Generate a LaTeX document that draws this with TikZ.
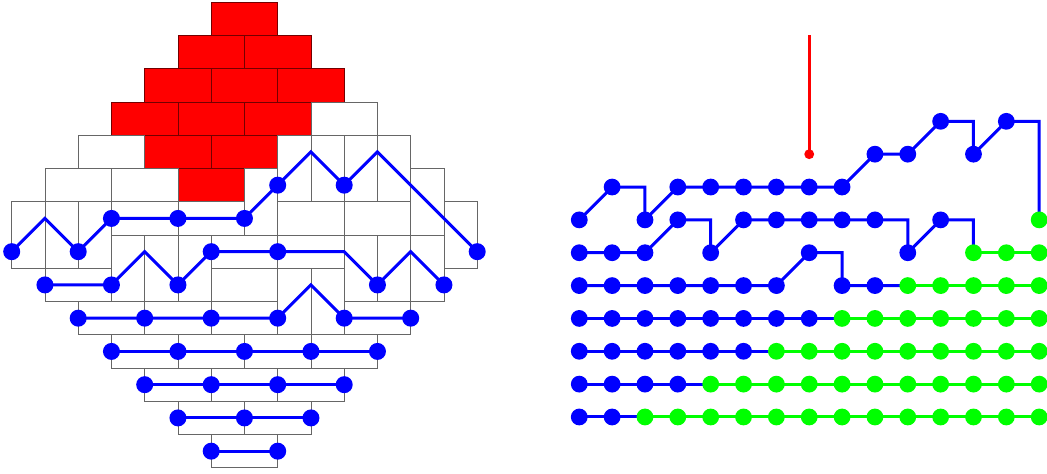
\documentclass[tikz,border=0pt]{standalone}
\usepackage{tikz}
\definecolor{pathblue}{RGB}{0,0,255}
\definecolor{pathgreen}{RGB}{0,255,0}
\definecolor{brickred}{RGB}{255,0,0}
\newcommand\HDomino[3][]{%
    \draw[#1] (#2,#3) rectangle ++(2,1);
}
\newcommand\VDomino[3][]{%
    \draw[#1] (#2,#3) rectangle ++(1,2);
}
\newcommand\Particle[2]{%
    \fill (#1,#2) circle (8.5pt);
}

\begin{document}
\begin{tikzpicture}[x=33.25pt,y=33.25pt]
    \useasboundingbox (-0.352,-0.186) rectangle (31.137,14.069);
    \begin{scope}[line width=0.8pt, draw=black!60] % tiling
        \foreach \x/\y in {6/13, 5/12, 7/12, 4/11, 6/11, 8/11, 3/10, 5/10, 7/10, 4/9, 6/9, 5/8}
            {\HDomino[fill=brickred, draw=red!45!black]{\x}{\y}}
        \foreach \x/\y in {9/10, 2/9, 1/8, 3/8, 8/7, 10/7, 6/5,
                           3/7, 5/7, 6/6, 8/6, 1/5, 2/4, 4/4, 6/4, 10/4,
                           3/3, 5/3, 7/3, 9/3, 4/2, 6/2, 8/2, 5/1, 7/1, 6/0}
            {\HDomino{\x}{\y}}
        \foreach \x/\y in {0/6, 1/6, 2/6, 13/6, 7/7, 12/7, 8/8, 9/8, 10/8, 11/8,
                           3/5, 4/5, 5/5, 10/5, 11/5, 12/5, 8/4, 9/4}
            {\VDomino{\x}{\y}}
    \end{scope}
    \begin{scope}[color=pathblue, line width=3pt] % paths
        \draw (0,6.5) -- (1,7.5) -- (2,6.5) -- (3,7.5) -- (7,7.5) -- (9,9.5) -- (10,8.5) -- (11,9.5) -- (14,6.5);
        \draw (1,5.5) -- (3,5.5) -- (4,6.5) -- (5,5.5) -- (6,6.5) -- (10,6.5) -- (11,5.5) -- (12,6.5) -- (13,5.5);
        \draw (2,4.5) -- (8,4.5) -- (9,5.5) -- (10,4.5) -- (12,4.5);
        \draw (3,3.5) -- (11,3.5);
        \draw (4,2.5) -- (10,2.5);
        \draw (5,1.5) -- (9,1.5);
        \draw (6,0.5) -- (8,0.5);
        \foreach \x/\y in {0/6.5, 2/6.5, 3/7.5, 5/7.5, 7/7.5, 8/8.5, 10/8.5, 14/6.5,
                           1/5.5, 3/5.5, 5/5.5, 6/6.5, 8/6.5, 11/5.5, 13/5.5,
                           2/4.5, 4/4.5, 6/4.5, 8/4.5, 10/4.5, 12/4.5,
                           3/3.5, 5/3.5, 7/3.5, 9/3.5, 11/3.5,
                           4/2.5, 6/2.5, 8/2.5, 10/2.5,
                           5/1.5, 7/1.5, 9/1.5, 6/0.5, 8/0.5}
            {\Particle{\x}{\y}}
    \end{scope}

    \begin{scope}[shift={(17.07,1.528)}, scale=0.988, line width=3pt]
        \draw[brickred] (7,11.62) -- (7,8) coordinate (Tip);
        \fill[brickred] (Tip) circle (5pt);
        % green tails
        \foreach \j in {0,...,6}
            {\draw[pathgreen] ({2*\j+2},\j) -- (14,\j);}
        \begin{scope}[color=pathblue]
            \draw (0,6) -- (1,7) -- (2,7) -- (2,6) -- (3,7) -- (8,7) -- (9,8) -- (10,8) -- (11,9) -- (12,9) -- (12,8) -- (13,9) -- (14,9) -- (14,6);
            \draw (0,5) -- (2,5) -- (3,6) -- (4,6) -- (4,5) -- (5,6) -- (9,6) -- (10,6) -- (10,5) -- (11,6) -- (12,6) -- (12,5);
            \draw (0,4) -- (6,4) -- (7,5) -- (8,5) -- (8,4) -- (10,4);
            \draw (0,3) -- (8,3);
            \draw (0,2) -- (6,2);
            \draw (0,1) -- (4,1);
            \draw (0,0) -- (2,0);
            \foreach \c/\j in {0/6, 1/7, 2/6, 3/7, 4/7, 5/7, 6/7, 7/7, 8/7, 9/8, 10/8, 11/9, 12/8, 13/9,
                               0/5, 1/5, 2/5, 3/6, 4/5, 5/6, 6/6, 7/6, 8/6, 9/6, 10/5, 11/6,
                               0/4, 1/4, 2/4, 3/4, 4/4, 5/4, 6/4, 7/5, 8/4, 9/4}
                {\Particle{\c}{\j}}
            \foreach \j in {0,...,3} {
                \pgfmathtruncatemacro\last{2*\j+1}
                \foreach \c in {0,...,\last}
                    {\Particle{\c}{\j}}
            }
        \end{scope}
        \begin{scope}[color=pathgreen]
            \foreach \j in {0,...,6} {
                \pgfmathtruncatemacro\first{2*\j+2}
                \foreach \c in {\first,...,14}
                    {\Particle{\c}{\j}}
            }
        \end{scope}
    \end{scope}
\end{tikzpicture}
\end{document}
